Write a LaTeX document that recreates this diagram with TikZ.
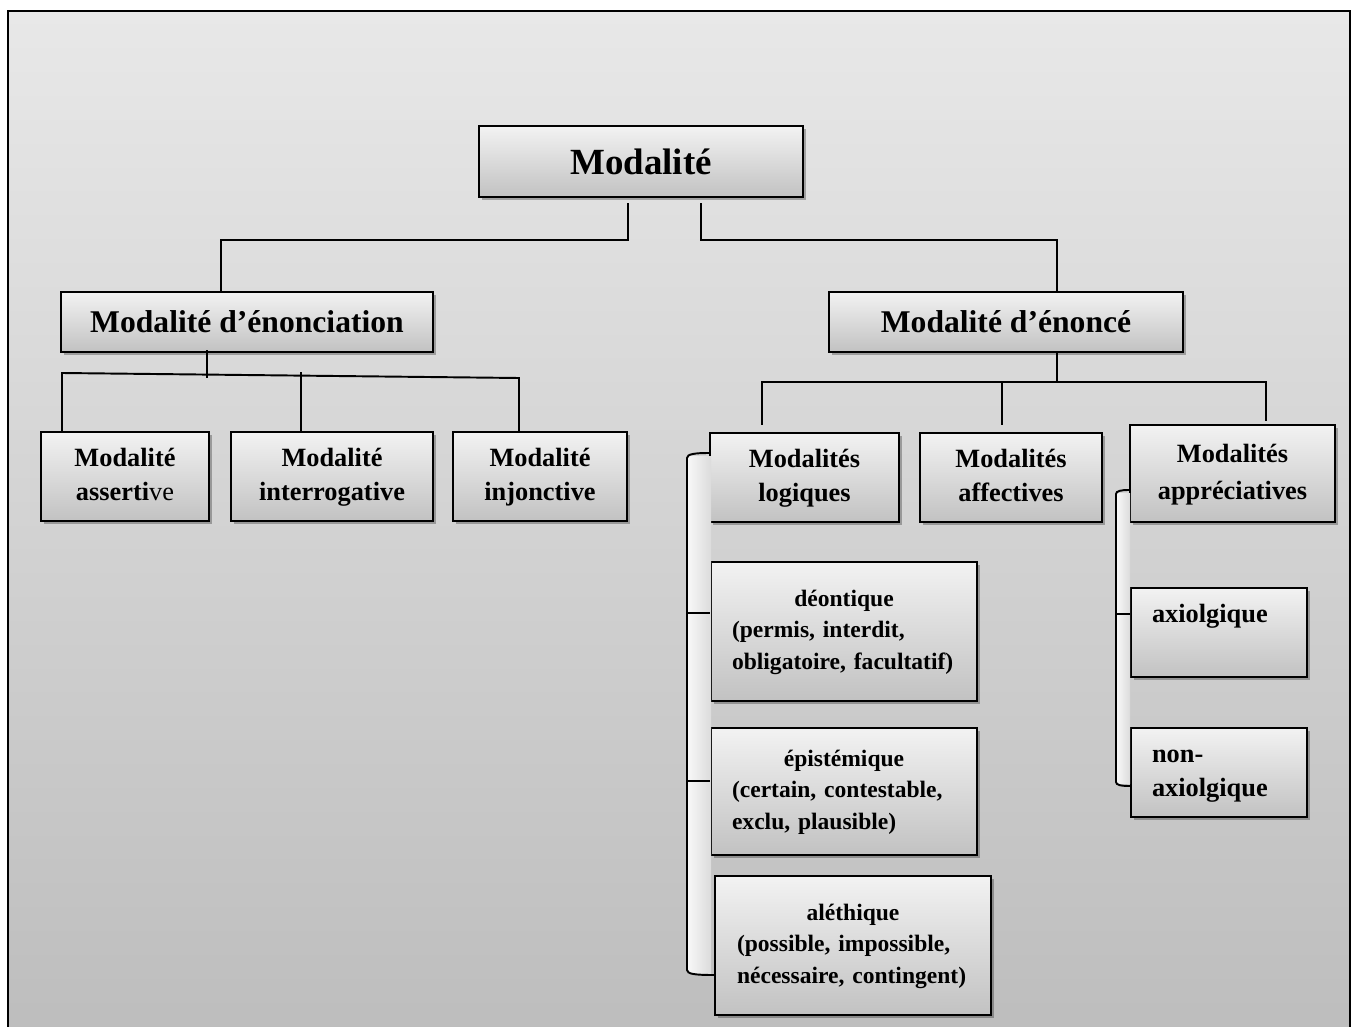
\documentclass[tikz,border=0pt]{standalone}
\usepackage{fontspec}
\setmainfont{Liberation Serif}
\usetikzlibrary{shadows}
\begin{document}
\begin{tikzpicture}[x=0.02cm,y=-0.02cm,
  box/.style={draw=black, line width=1.2pt, top color=white!95!black, bottom color=white!76!black,
    inner sep=0pt, align=center,
    drop shadow={shadow xshift=1.6pt, shadow yshift=-1.6pt, opacity=0.28, fill=black}},
  sz/.style 2 args={minimum width=#1*0.02cm, minimum height=#2*0.02cm},
  fA/.style={font=\fontsize{21}{25}\selectfont\bfseries},
  fB/.style={font=\fontsize{18}{22}\selectfont\bfseries},
  fC/.style={font=\fontsize{15}{19.8}\selectfont\bfseries},
  fD/.style={font=\fontsize{13.4}{18.1}\selectfont\bfseries},
  conn/.style={draw=black, line width=1.1pt},
  brk/.style={draw=black, line width=1.1pt},
  strip/.style={left color=white!97!black, right color=white!86!black}
]
\useasboundingbox (0,0) rectangle (1356,1027);
\clip (0,0) rectangle (1356,1027);
% outer frame
\path[draw=black, line width=1.3pt, top color=white!91!black, bottom color=white!74!black]
  (8,11) rectangle (1350,1045);

% nodes
\node[box, fA, sz={324}{71}] (mod) at (641,161.5) {Modalité};
\node[box, fB, sz={372}{60}] (enonc) at (247,322) {Modalité d’énonciation};
\node[box, fB, sz={354}{60}] (enon) at (1006,322) {Modalité d’énoncé};

\node[box, fC, sz={168}{89}] (ass) at (125,476.5) {\strut Modalité\\asserti{\mdseries ve}\strut};
\node[box, fC, sz={202}{89}] (inter) at (332,476.5) {\strut Modalité\\interrogative\strut};
\node[box, fC, sz={174}{89}] (inj) at (540,476.5) {\strut Modalité\\injonctive\strut};

\node[box, fC, sz={189}{89}] (log) at (804.5,477.5) {\strut Modalités\\logiques\strut};
\node[box, fC, sz={182}{89}] (aff) at (1011,477.5) {\strut Modalités\\affectives\strut};
\node[box, font=\fontsize{15}{21.5}\selectfont\bfseries, sz={205}{97}] (app) at (1232.5,473.5) {\strut Modalités\\appréciatives\strut};

\node[box, fD, sz={266}{139}, text width=4.48cm, align=left] (deo) at (844,631.5)
  {\makebox[\linewidth][c]{\strut déontique}\\(permis, interdit,\\obligatoire, facultatif)\strut};
\node[box, fD, sz={266}{127}, text width=4.48cm, align=left] (epi) at (844,791.5)
  {\makebox[\linewidth][c]{\strut épistémique}\\(certain, contestable,\\exclu, plausible)\strut};
\node[box, fD, sz={276}{139}, text width=4.64cm, align=left] (ale) at (853,945.5)
  {\makebox[\linewidth][c]{\strut aléthique}\\(possible, impossible,\\nécessaire, contingent)\strut};

\node[box, font=\fontsize{15}{19.3}\selectfont\bfseries, sz={176}{89}, text width=2.68cm, align=left] (axi) at (1219,632.5)
  {\strut axiolgique\\\strut};
\node[box, font=\fontsize{15}{19.3}\selectfont\bfseries, sz={176}{89}, text width=2.68cm, align=left] (nax) at (1219,772.5)
  {\strut non-\\axiolgique\strut};

% connectors from Modalité
\coordinate (m1) at (628,240);
\coordinate (e1) at (221,240);
\coordinate (m2) at (701,240);
\coordinate (e2) at (1057,240);
\draw[conn] ([yshift=-3pt]mod.south -| m1) -- (m1) -- (e1) -- (e1 |- enonc.north);
\draw[conn] ([yshift=-3pt]mod.south -| m2) -- (m2) -- (e2) -- (e2 |- enon.north);

% connectors from Modalité d'énonciation
\coordinate (a1) at (207,378);
\coordinate (hl) at (62,373);
\coordinate (hr) at (519,378);
\coordinate (hm) at (301,372);
\draw[conn] ([yshift=1.5pt]enonc.south -| a1) -- (a1);
\draw[conn] (ass.north -| hl) -- (hl) -- (hr) -- (inj.north -| hr);
\draw[conn] (hm) -- (inter.north -| hm);

% connectors from Modalité d'énoncé
\coordinate (b1) at (1057,382);
\coordinate (bl) at (762,382);
\coordinate (bm) at (1002,382);
\coordinate (br) at (1266,382);
\draw[conn] (enon.south -| b1) -- (b1);
\draw[conn] ([yshift=4pt]log.north -| bl) -- (bl) -- (br) -- ([yshift=1.7pt]app.north -| br);
\draw[conn] (bm) -- ([yshift=4pt]aff.north -| bm);

% left bracket (logical modalities)
\fill[strip] (688,456) rectangle (711,973);
\coordinate (lt) at (687,458);
\coordinate (lb) at (687,970);
\coordinate (lk1) at (687,613);
\coordinate (lk2) at (687,781);
\draw[brk] (log.west |- 0,453) .. controls (695,453) and (687,454) .. (lt) -- (lb)
  .. controls (687,974) and (695,975) .. (ale.west |- 0,975);
\draw[brk] (lk1) -- (deo.west |- lk1);
\draw[brk] (lk2) -- (epi.west |- lk2);

% right bracket (appreciative modalities)
\fill[strip] (1117,493) rectangle (1130,783);
\coordinate (rt) at (1116,494);
\coordinate (rb) at (1116,782);
\coordinate (rk1) at (1116,614);
\draw[brk] (app.west |- 0,490) .. controls (1121,490) and (1116,491) .. (rt) -- (rb)
  .. controls (1116,785) and (1121,786) .. (nax.west |- 0,786);
\draw[brk] (rk1) -- (axi.west |- rk1);
\end{tikzpicture}
\end{document}
